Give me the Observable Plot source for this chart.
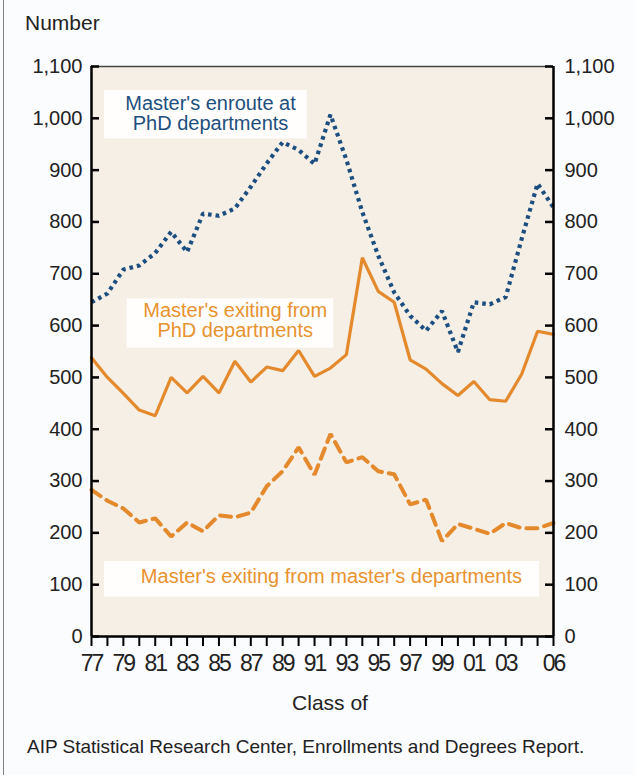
<!DOCTYPE html>
<html>
<head>
<meta charset="utf-8">
<script src="https://cdn.jsdelivr.net/npm/d3@7"></script>
<script src="https://cdn.jsdelivr.net/npm/@observablehq/plot@0.6"></script>
<style>
  body { margin: 0; background: #fbfcfe; font-family: "Liberation Sans", Arial, sans-serif; }
  #wrap { position: relative; width: 636px; height: 775px; overflow: hidden; }
  #wrap svg { position: absolute; left: 0; top: 0; }
  .lbl { position: absolute; color: #222; white-space: nowrap; line-height: 1; }
</style>
</head>
<body>
<div id="wrap"></div>
<script>
// ---- data ----
const years = [1977, 1978, 1979, 1980, 1981, 1982, 1983, 1984, 1985, 1986,
               1987, 1988, 1989, 1990, 1991, 1992, 1993, 1994, 1995, 1996,
               1997, 1998, 1999, 2000, 2001, 2002, 2003, 2004, 2005, 2006];
const enrouteAtPhd = [645, 662, 708, 716, 740, 781, 742, 816, 812, 826,
                      868, 913, 954, 939, 912, 1007, 920, 819, 735, 664,
                      619, 590, 628, 549, 645, 641, 655, 767, 874, 828];
const exitingFromPhd = [538, 500, 469, 437, 426, 500, 470, 502, 470, 531,
                        491, 520, 513, 552, 502, 518, 544, 731, 666, 645,
                        534, 516, 488, 465, 492, 457, 454, 506, 589, 583];
const exitingFromMasters = [283, 262, 247, 220, 228, 193, 220, 203, 234, 230,
                            239, 290, 319, 365, 312, 391, 336, 346, 319, 313,
                            255, 264, 184, 217, 208, 198, 219, 209, 209, 219];
const yTicks = [0, 100, 200, 300, 400, 500, 600, 700, 800, 900, 1000, 1100];
const xLabelYears = [1977, 1979, 1981, 1983, 1985, 1987, 1989, 1991, 1993, 1995,
                     1997, 1999, 2001, 2003, 2006];
const annotations = [
  {text: "Master's enroute at\nPhD departments", x: 1984.47, y: 1009, x1: 1977.82, x2: 1990.54, y1: 960.4, y2: 1053.7, color: "#1d4f7e"},
  {text: "Master's exiting from\nPhD departments", x: 1986.02, y: 610, x1: 1979.24, x2: 1992.21, y1: 556.3, y2: 651.7, color: "#e8922f"},
  {text: "Master's exiting from master's departments", x: 1992.06, y: 116.4, x1: 1977.82, x2: 2005.12, y1: 75.8, y2: 144.7, color: "#e8922f"}
];

const blue = "#1c4e80";
const orange = "#e4892c";

const rows = years.map((yr, i) => ({yr, a: enrouteAtPhd[i], b: exitingFromPhd[i], c: exitingFromMasters[i]}));

const W = 636, H = 775, mL = 91, mR = 83, mT = 66, mB = 139;
const innerW = W - mL - mR;
const font = "Liberation Sans, Arial, sans-serif";

const chart = Plot.plot({
  width: W, height: H,
  marginLeft: mL, marginRight: mR, marginTop: mT, marginBottom: mB,
  style: {fontFamily: font, background: "transparent", overflow: "visible"},
  x: {domain: [1977, 2006], label: null},
  y: {domain: [0, 1100], label: null},
  marks: [
    Plot.frame({fill: "#f5efe5", stroke: null}),
    // annotation boxes
    Plot.rect(annotations, {x1: "x1", x2: "x2", y1: "y1", y2: "y2", fill: "#fffefd"}),
    Plot.text(annotations, {x: "x", y: "y", text: "text", fill: "color", fontSize: 20, lineHeight: 1.0, fontFamily: font}),
    // series
    Plot.line(rows, {x: "yr", y: "c", stroke: orange, strokeWidth: 4, strokeDasharray: "11 7", strokeLinejoin: "miter"}),
    Plot.line(rows, {x: "yr", y: "b", stroke: orange, strokeWidth: 3.2, strokeLinejoin: "miter"}),
    Plot.line(rows, {x: "yr", y: "a", stroke: blue, strokeWidth: 4.2, strokeDasharray: "3.6 4", strokeLinecap: "butt", strokeLinejoin: "miter"}),
    // frame borders
    Plot.ruleY([1100], {stroke: "#444", strokeWidth: 1.5}),
    Plot.ruleX([1977], {stroke: "#000", strokeWidth: 2.5}),
    Plot.ruleX([2006], {stroke: "#000", strokeWidth: 2.5}),
    Plot.ruleY([0], {stroke: "#000", strokeWidth: 2.5}),
    // inward y ticks
    Plot.tickY(yTicks, {y: d => d, insetRight: innerW - 8, stroke: "#000", strokeWidth: 2.5}),
    Plot.tickY(yTicks, {y: d => d, insetLeft: innerW - 8, stroke: "#000", strokeWidth: 2.5}),
    // y labels
    Plot.axisY(yTicks, {anchor: "left", tickSize: 0, tickPadding: 9, tickFormat: d3.format(","), fontSize: 20, fill: "#222", label: null}),
    Plot.axisY(yTicks, {anchor: "right", tickSize: 0, tickPadding: 11, tickFormat: d3.format(","), fontSize: 20, fill: "#222", label: null}),
    // x axis
    Plot.axisX(years, {anchor: "bottom", tickSize: 10, tickPadding: 8, strokeWidth: 2, stroke: "#000",
      tickFormat: d => xLabelYears.includes(d) ? String(d).slice(2) : "",
      fontSize: 23, fill: "#222", label: null})
  ]
});

const wrap = document.getElementById("wrap");
wrap.appendChild(chart);
// condensed look for the year labels
chart.querySelectorAll("g[aria-label='x-axis tick label'] text").forEach(t => t.setAttribute("letter-spacing", "-2"));

function addLabel(text, left, top, size, extra) {
  const d = document.createElement("div");
  d.className = "lbl";
  d.textContent = text;
  d.style.left = left + "px";
  d.style.top = top + "px";
  d.style.fontSize = size + "px";
  if (extra) Object.assign(d.style, extra);
  wrap.appendChild(d);
  return d;
}
addLabel("Number", 25, 12, 21);
addLabel("Class of", 12, 692, 21, {width: W + "px", textAlign: "center", left: "12px"});
addLabel("AIP Statistical Research Center, Enrollments and Degrees Report.", 27, 736.5, 19);
const edge = document.createElement("div");
edge.style.cssText = "position:absolute;left:3px;top:0;width:1px;height:775px;background:#808080;";
wrap.appendChild(edge);
</script>
</body>
</html>
